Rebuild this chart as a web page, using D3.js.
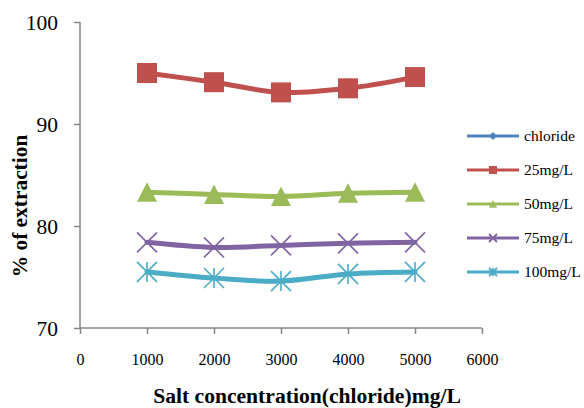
<!DOCTYPE html>
<html>
<head>
<meta charset="utf-8">
<script src="https://cdn.jsdelivr.net/npm/d3@7"></script>
<style>
  html, body { margin: 0; padding: 0; background: #fff; }
  svg { display: block; }
</style>
</head>
<body>
<svg id="chart" width="584" height="408"></svg>
<script>
// Salt concentration (chloride, mg/L) on the x axis
const concentrations = [1000, 2000, 3000, 4000, 5000];

// Series names as shown in the legend
const seriesNames = ["chloride", "25mg/L", "50mg/L", "75mg/L", "100mg/L"];

// % of extraction for each dose
const chloride = [];
const dose25  = [95.0, 94.1, 93.1, 93.5, 94.6];
const dose50  = [83.3, 83.1, 82.9, 83.2, 83.3];
const dose75  = [78.4, 77.9, 78.1, 78.3, 78.4];
const dose100 = [75.5, 74.9, 74.6, 75.3, 75.5];

// Axis ticks
const xTicks = [0, 1000, 2000, 3000, 4000, 5000, 6000];
const yTicks = [70, 80, 90, 100];

const xTitle = "Salt concentration(chloride)mg/L";
const yTitle = "% of extraction";

const seriesValues = [chloride, dose25, dose50, dose75, dose100];
const colors = ["#4F81BD", "#C0504D", "#9BBB59", "#8064A2", "#4BACC6"];
const markers = ["diamond", "square", "triangle", "x", "star"];

const FONT = "'Liberation Serif', 'Times New Roman', Times, 'DejaVu Serif', serif";

const series = seriesNames.map((name, i) => ({
  name,
  color: colors[i],
  marker: markers[i],
  points: seriesValues[i].map((v, j) => ({ x: concentrations[j], y: v }))
}));

const svg = d3.select("#chart");

const x = d3.scaleLinear().domain([0, 6000]).range([80, 482]);
const y = d3.scaleLinear().domain([70, 100]).range([328, 22]);

const axisColor = "#868686";

// Y axis
const yAxis = svg.append("g")
  .attr("transform", `translate(${x(0)},0)`)
  .call(d3.axisLeft(y).tickValues(yTicks).tickSize(6).tickPadding(16).tickFormat(d3.format("d")));
yAxis.attr("font-family", null).attr("font-size", null);
yAxis.select(".domain").attr("stroke", axisColor).attr("stroke-width", 1.5).attr("d", `M0,${y(100)}V${y(70)}`);
yAxis.selectAll(".tick line").attr("stroke", axisColor).attr("stroke-width", 1.5);
yAxis.selectAll(".tick text")
  .style("font-family", FONT)
  .style("font-size", "21.5px")
  .attr("fill", "#000")
  .attr("dy", "0.34em");

// X axis
const xAxis = svg.append("g")
  .attr("transform", `translate(0,${y(70)})`)
  .call(d3.axisBottom(x).tickValues(xTicks).tickSize(6).tickPadding(20).tickFormat(d3.format("d")));
xAxis.attr("font-family", null).attr("font-size", null);
xAxis.select(".domain").attr("stroke", axisColor).attr("stroke-width", 1.5).attr("d", `M${x(0)},0H${x(6000)}`);
xAxis.selectAll(".tick line").attr("stroke", axisColor).attr("stroke-width", 1.5);
xAxis.selectAll(".tick text")
  .style("font-family", FONT)
  .style("font-size", "16px")
  .attr("fill", "#000");

// Axis titles
svg.append("text")
  .attr("x", 307)
  .attr("y", 403)
  .attr("text-anchor", "middle")
  .style("font-family", FONT)
  .style("font-weight", "bold")
  .style("font-size", "21.6px")
  .text(xTitle);

svg.append("text")
  .attr("transform", `translate(27,206) rotate(-90)`)
  .attr("text-anchor", "middle")
  .style("font-family", FONT)
  .style("font-weight", "bold")
  .style("font-size", "21.4px")
  .text(yTitle);

// Marker drawing
function drawMarker(g, type, color, size) {
  const h = size / 2;
  if (type === "square") {
    g.append("rect").attr("x", -h).attr("y", -h).attr("width", size).attr("height", size)
      .attr("fill", color);
  } else if (type === "diamond") {
    g.append("path").attr("d", `M0,${-h}L${h},0L0,${h}L${-h},0Z`).attr("fill", color);
  } else if (type === "triangle") {
    g.append("path").attr("d", `M0,${-h}L${h},${h * 0.95}L${-h},${h * 0.95}Z`).attr("fill", color);
  } else if (type === "x") {
    g.append("path").attr("d", `M${-h},${-h}L${h},${h}M${h},${-h}L${-h},${h}`)
      .attr("stroke", color).attr("stroke-width", size > 12 ? 1.6 : 1.8).attr("fill", "none");
  } else if (type === "star") {
    g.append("path").attr("d", `M${-h},${-h}L${h},${h}M${h},${-h}L${-h},${h}M0,${-h}V${h}`)
      .attr("stroke", color).attr("stroke-width", size > 12 ? 1.6 : 1.8).attr("fill", "none");
  }
}

const line = d3.line()
  .x(d => x(d.x))
  .y(d => y(d.y))
  .curve(d3.curveCatmullRom.alpha(0.5));

const plot = svg.append("g");
series.forEach(s => {
  if (!s.points.length) return;
  plot.append("path")
    .datum(s.points)
    .attr("d", line)
    .attr("fill", "none")
    .attr("stroke", s.color)
    .attr("stroke-width", 5)
    .attr("stroke-linejoin", "round")
    .attr("stroke-linecap", "round");
  s.points.forEach(p => {
    const g = plot.append("g").attr("transform", `translate(${x(p.x)},${y(p.y)})`);
    drawMarker(g, s.marker, s.color, 20);
  });
});

// Legend
const legend = svg.append("g");
series.forEach((s, i) => {
  const cy = 136 + i * 34;
  const g = legend.append("g").attr("transform", `translate(0,${cy})`);
  g.append("line").attr("x1", 467).attr("x2", 519).attr("y1", 0).attr("y2", 0)
    .attr("stroke", s.color).attr("stroke-width", 3);
  const m = g.append("g").attr("transform", "translate(493,0)");
  drawMarker(m, s.marker, s.color, 8);
  g.append("text").attr("x", 524).attr("y", 0).attr("dy", "0.33em")
    .style("font-family", FONT)
    .style("font-size", "15.5px")
    .attr("fill", "#000")
    .text(s.name);
});
</script>
</body>
</html>
